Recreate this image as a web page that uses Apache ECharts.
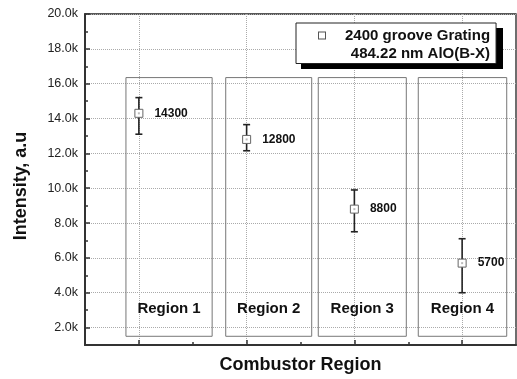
<!DOCTYPE html>
<html><head><meta charset="utf-8">
<script src="https://cdn.jsdelivr.net/npm/echarts@6/dist/echarts.min.js"></script>
<style>html,body{margin:0;padding:0;background:#fff}#c{width:517px;height:379px}</style>
</head><body><div id="c"></div>
<script>
// ---- data ----
const regions = ['Region 1', 'Region 2', 'Region 3', 'Region 4'];
const intensity = [14300, 12800, 8800, 5700];
const errLow = [13100, 12150, 7500, 4000];
const errHigh = [15200, 13650, 9900, 7100];
const boxLeft = [0.88, 1.806, 2.665, 3.593];
const boxRight = [1.68, 2.604, 3.482, 4.414];
const boxTop = 16350;
const boxBottom = 1500;
const yTicks = [2000, 4000, 6000, 8000, 10000, 12000, 14000, 16000, 18000, 20000];
const yMinorTicks = [3000, 5000, 7000, 9000, 11000, 13000, 15000, 17000, 19000];
const seriesName = '2400 groove Grating';
const seriesNote = '484.22 nm AlO(B-X)';

// ---- chart ----
const FONT = 'Liberation Sans, Arial, sans-serif';
const xPos = regions.map((_, i) => i + 1);
const xMinor = regions.slice(1).map((_, i) => i + 1.5);

const chart = echarts.init(document.getElementById('c'), null, { renderer: 'canvas' });
chart.setOption({
  animation: false,
  backgroundColor: '#fff',
  textStyle: { fontFamily: FONT },
  grid: { left: 85, top: 14, width: 431, height: 332, show: true, borderColor: '#222', borderWidth: 1.3, backgroundColor: 'transparent' },
  graphic: [{
    type: 'rect', z: 3, silent: true,
    shape: { x: 301, y: 28, width: 202, height: 41 },
    style: { fill: '#000' }
  }],
  legend: {
    data: [seriesName], left: 296, top: 23, orient: 'vertical', selectedMode: false, z: 5,
    padding: [5, 6, 2, 18],
    backgroundColor: '#fff', borderColor: '#222', borderWidth: 1,
    itemWidth: 0, itemHeight: 0,
    itemStyle: { color: 'transparent', borderWidth: 0 },
    formatter: n => '{ic|}{sp|}{a|' + n + '}\n{b|' + seriesNote + '}',
    textStyle: {
      fontFamily: FONT,
      rich: {
        ic: { width: 6, height: 6, backgroundColor: '#fff', borderColor: '#555', borderWidth: 1, align: 'left' },
        sp: { width: 20 },
        a: { fontSize: 15, fontWeight: 'bold', color: '#111', lineHeight: 18.5, align: 'right', fontFamily: FONT },
        b: { fontSize: 15, fontWeight: 'bold', color: '#111', lineHeight: 18.5, align: 'right', fontFamily: FONT }
      }
    }
  },
  xAxis: [{
    type: 'value', min: 0.5, max: 4.5, position: 'bottom',
    name: 'Combustor Region', nameLocation: 'middle', nameGap: 11,
    nameTextStyle: { fontSize: 18, fontWeight: 'bold', color: '#111', fontFamily: FONT },
    axisLine: { show: true, lineStyle: { color: '#333', width: 2 } },
    axisTick: { show: true, inside: true, length: 5, customValues: xPos, lineStyle: { color: '#333', width: 1.5 } },
    axisLabel: { show: false, customValues: xPos },
    splitLine: { show: true, lineStyle: { color: '#aaa', type: 'dotted', width: 1 } }
  }, {
    type: 'value', min: 0.5, max: 4.5, position: 'bottom',
    axisLine: { show: false },
    axisTick: { show: true, inside: true, length: 3, customValues: xMinor, lineStyle: { color: '#333', width: 1.5 } },
    axisLabel: { show: false },
    splitLine: { show: false }
  }],
  yAxis: [{
    type: 'value', min: 1000, max: 20000, splitNumber: 10, position: 'left',
    name: 'Intensity, a.u', nameLocation: 'middle', nameGap: 55, nameRotate: 90,
    nameTextStyle: { fontSize: 18, fontWeight: 'bold', color: '#111', fontFamily: FONT, padding: [0, 13, 0, 0] },
    axisLine: { show: true, lineStyle: { color: '#333', width: 2 } },
    axisTick: { show: true, inside: true, length: 5, customValues: yTicks, lineStyle: { color: '#333', width: 1.5 } },
    axisLabel: { show: true, customValues: yTicks, margin: 7, fontSize: 12.5, color: '#222', fontFamily: FONT,
      formatter: v => (v / 1000).toFixed(1) + 'k' },
    splitLine: { show: true, lineStyle: { color: '#aaa', type: 'dotted', width: 1 } }
  }, {
    type: 'value', min: 1000, max: 20000, position: 'left',
    axisLine: { show: false },
    axisTick: { show: true, inside: true, length: 3, customValues: yMinorTicks, lineStyle: { color: '#333', width: 1.5 } },
    axisLabel: { show: false },
    splitLine: { show: false }
  }],
  series: [{
    type: 'custom', name: 'error', xAxisIndex: 0, yAxisIndex: 0, z: 2, silent: true,
    data: regions.map((_, i) => [i + 1, errLow[i], errHigh[i]]),
    encode: { x: 0, y: [1, 2] },
    renderItem: (params, api) => {
      const x = api.value(0);
      const pHi = api.coord([x, api.value(2)]);
      const pLo = api.coord([x, api.value(1)]);
      const hw = 3.5;
      const st = { stroke: '#222', lineWidth: 1.6 };
      return { type: 'group', children: [
        { type: 'line', shape: { x1: pHi[0], y1: pHi[1], x2: pLo[0], y2: pLo[1] }, style: st },
        { type: 'line', shape: { x1: pHi[0] - hw, y1: pHi[1], x2: pHi[0] + hw, y2: pHi[1] }, style: st },
        { type: 'line', shape: { x1: pLo[0] - hw, y1: pLo[1], x2: pLo[0] + hw, y2: pLo[1] }, style: st }
      ] };
    }
  }, {
    type: 'scatter', name: seriesName, xAxisIndex: 0, yAxisIndex: 0, z: 3,
    data: regions.map((_, i) => [i + 1, intensity[i]]),
    symbol: 'rect', symbolSize: 8,
    itemStyle: { color: '#fff', borderColor: '#666', borderWidth: 1, opacity: 1 },
    label: { show: true, position: 'right', distance: 11, formatter: p => p.value[1],
      fontSize: 12, fontWeight: 'bold', color: '#111', fontFamily: FONT },
    markArea: {
      silent: true,
      itemStyle: { color: 'rgba(0,0,0,0)', borderColor: '#777', borderWidth: 1 },
      label: { show: true, position: 'insideBottom', distance: 20, fontSize: 15, fontWeight: 'bold', color: '#111', fontFamily: FONT },
      data: regions.map((r, i) => [{ name: r, coord: [boxLeft[i], boxTop] }, { coord: [boxRight[i], boxBottom] }])
    }
  }, {
    type: 'scatter', name: 'center', xAxisIndex: 0, yAxisIndex: 0, z: 4, silent: true,
    data: regions.map((_, i) => [i + 1, intensity[i]]),
    symbol: 'rect', symbolSize: 2, itemStyle: { color: '#aaa' }
  }]
});
</script></body></html>
